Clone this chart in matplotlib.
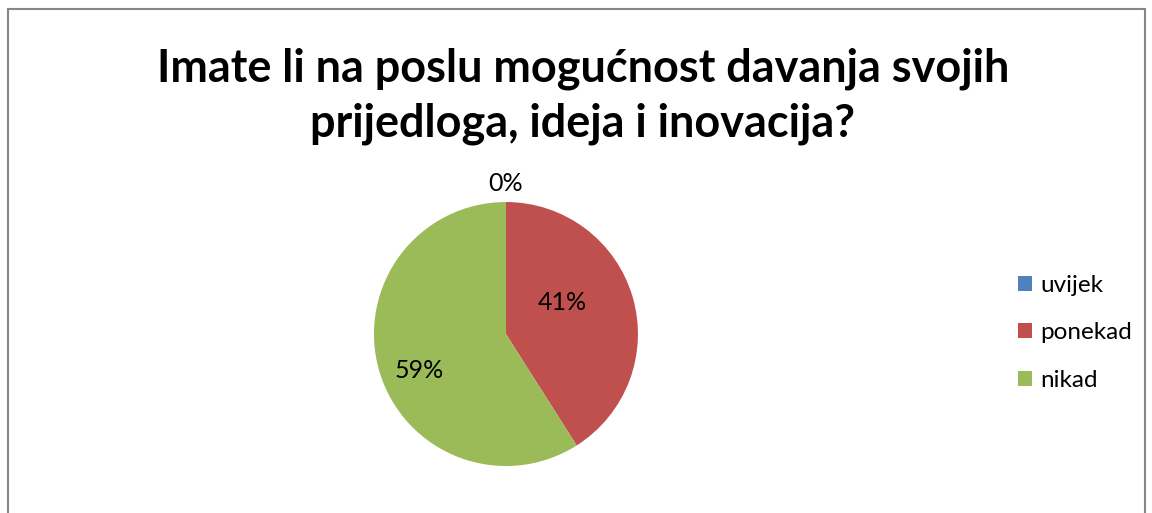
import numpy as np
import matplotlib
matplotlib.use("Agg")
import matplotlib.pyplot as plt
from matplotlib.patches import Rectangle

plt.rcParams['font.family'] = ['Lato', 'DejaVu Sans']

categories = ['uvijek', 'ponekad', 'nikad']
values = [0, 41, 59]
colors = ['#4F81BD', '#C0504D', '#9BBB59']
# label placement (distance from centre, angle shift from wedge middle)
label_dist = [1.14, 0.49, 0.71]
label_shift = [0, 12.5, 6.5]

fig = plt.figure(figsize=(11.52, 5.13), dpi=100)

# outer chart border (bottom edge is cropped in the original)
fig.patches.append(Rectangle((8 / 1152, -0.1), 1137 / 1152, 1.1 - 9 / 513,
                             transform=fig.transFigure, fill=False,
                             edgecolor='#868686', linewidth=1.5))

fig.text(0.506, 0.813, 'Imate li na poslu mogućnost davanja svojih\nprijedloga, ideja i inovacija?',
         ha='center', va='center', fontsize=32.4, fontweight='bold', linespacing=1.37)

ax = fig.add_axes([0.3246, 0.0916, 0.2292, 0.5146])
wedges, texts = ax.pie(values, colors=colors, startangle=90, counterclock=False,
                       radius=1, wedgeprops=dict(linewidth=0))
ax.set_xlim(-1, 1)
ax.set_ylim(-1, 1)
ax.set_aspect('equal')
ax.axis('off')

total = sum(values)
for w, v, d, s in zip(wedges, values, label_dist, label_shift):
    mid = np.deg2rad((w.theta1 + w.theta2) / 2 + s)
    ax.text(d * np.cos(mid), d * np.sin(mid), f'{round(100 * v / total)}%',
            ha='center', va='center', fontsize=18)

leg = fig.legend(wedges, categories, loc='center left', bbox_to_anchor=(0.8837, 0.351),
                 frameon=False, fontsize=17.5, handlelength=0.58, handleheight=0.58,
                 handletextpad=0.33, labelspacing=1.08, borderpad=0, borderaxespad=0)

fig.savefig('out.png', dpi=100)
